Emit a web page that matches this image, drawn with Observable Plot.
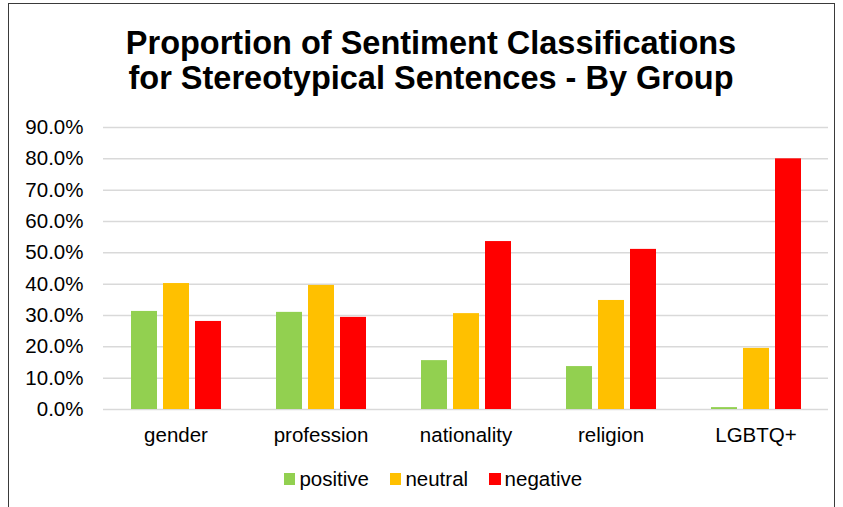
<!DOCTYPE html>
<html>
<head>
<meta charset="utf-8">
<script src="https://cdn.jsdelivr.net/npm/d3@7"></script>
<script src="https://cdn.jsdelivr.net/npm/@observablehq/plot@0.6"></script>
<style>
  html, body { margin: 0; padding: 0; background: #fff; width: 843px; height: 507px; overflow: hidden; }
  body { font-family: "Liberation Sans", Arial, sans-serif; position: relative; }
  #frame { position: absolute; left: 8px; top: 3px; width: 827px; height: 520px; border: 1.5px solid #3a3a3a; box-sizing: border-box; }
  #title { position: absolute; left: 0; top: 26px; width: 862px; text-align: center; font-weight: bold; font-size: 32.5px; line-height: 35px; color: #000; }
  #chart { position: absolute; left: 0; top: 110px; }
  #legend { position: absolute; left: 0; top: 466px; width: 866px; height: 26px; display: flex; justify-content: center; align-items: center; font-size: 20.5px; color: #000; }
  .item { display: flex; align-items: center; margin: 0 10.5px; }
  .sw { width: 11.5px; height: 11.5px; margin-right: 4px; }
</style>
</head>
<body>
<div id="frame"></div>
<div id="title">Proportion of Sentiment Classifications<br>for Stereotypical Sentences - By Group</div>
<div id="chart"></div>
<div id="legend"></div>
<script>
const groups = ["gender", "profession", "nationality", "religion", "LGBTQ+"];
const sentiments = ["positive", "neutral", "negative"];
const positive = [0.313, 0.310, 0.156, 0.137, 0.006];
const neutral  = [0.402, 0.396, 0.306, 0.348, 0.195];
const negative = [0.281, 0.294, 0.536, 0.511, 0.800];
const colors = ["#92D050", "#FFC000", "#FF0000"];
const yTicks = [0, 0.1, 0.2, 0.3, 0.4, 0.5, 0.6, 0.7, 0.8, 0.9];

const series = {positive, neutral, negative};
const data = [];
groups.forEach((g, i) => sentiments.forEach(s => data.push({group: g, sentiment: s, value: series[s][i]})));

const font = "'Liberation Sans', Arial, sans-serif";
const plot = Plot.plot({
  width: 843,
  height: 345,
  marginLeft: 102,
  marginRight: 15,
  marginTop: 17,
  marginBottom: 46,
  style: {fontFamily: font, fontSize: "20.5px", color: "#000", background: "transparent"},
  fx: {domain: groups, padding: 0, label: null, axis: null},
  x: {domain: sentiments, paddingInner: 0.2, paddingOuter: 0.86, axis: null},
  y: {domain: [0, 0.9], label: null, axis: null},
  color: {domain: sentiments, range: colors},
  marks: [
    Plot.gridY(yTicks, {stroke: "#d9d9d9", strokeOpacity: 1, strokeWidth: 1.5}),
    Plot.axisY(yTicks, {tickFormat: d3.format(".1%"), tickSize: 0, tickPadding: 20, fontSize: 20.5, fill: "#000", label: null}),
    Plot.axisFx({anchor: "bottom", tickSize: 0, tickPadding: 18, fontSize: 20.5, fill: "#000", label: null}),
    Plot.barY(data, {fx: "group", x: "sentiment", y: "value", fill: "sentiment"})
  ]
});
document.getElementById("chart").appendChild(plot);

const legend = d3.select("#legend");
sentiments.forEach((s, i) => {
  const it = legend.append("div").attr("class", "item");
  it.append("div").attr("class", "sw").style("background", colors[i]);
  it.append("span").text(s);
});
</script>
</body>
</html>
